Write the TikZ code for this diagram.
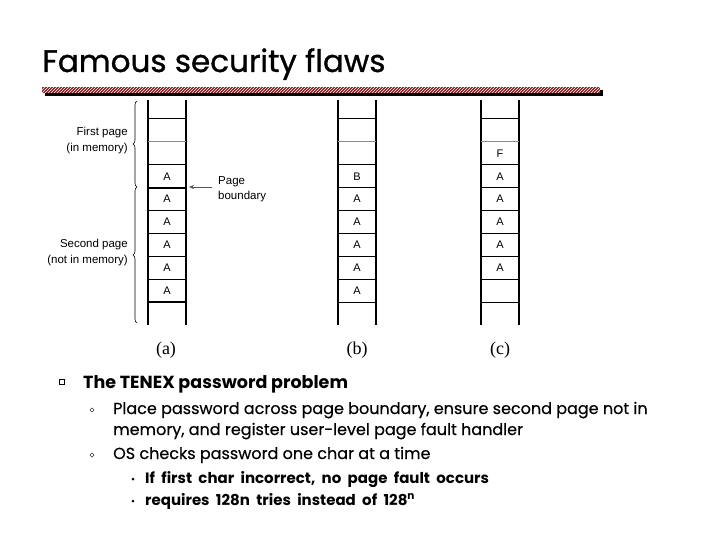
\documentclass[tikz,border=0pt]{standalone}
\usepackage{fontspec}
\setmainfont{Poppins}
\newfontfamily\figfont{Liberation Sans}
\newfontfamily\capfont{Liberation Serif}
\newfontfamily\widefont[WordSpace=2]{Poppins}
\usetikzlibrary{positioning,arrows.meta,decorations.pathreplacing,patterns}
\definecolor{barRed}{HTML}{8B1A1A}
\definecolor{ruleGray}{HTML}{8A8A8A}
\definecolor{arrowGray}{HTML}{555555}

\tikzset{
  wall/.style={line width=1.3pt},
  rule/.style={line width=1pt},
  lightrule/.style={line width=1pt, ruleGray},
  heavyrule/.style={line width=1.8pt},
  cell/.style={font=\figfont\fontsize{11}{13}\selectfont, inner sep=0pt},
  sidelabel/.style={font=\figfont\fontsize{11.5}{16}\selectfont, align=right, inner sep=0pt, anchor=east},
  caption/.style={font=\capfont\fontsize{18}{20}\selectfont, inner sep=0pt},
  lvlone/.style={anchor=base west, inner sep=0pt, font=\bfseries\fontsize{17.5}{20}\selectfont},
  lvltwo/.style={anchor=base west, inner sep=0pt, font=\addfontfeature{FakeBold=0.4}\fontsize{16}{20}\selectfont},
  lvlthree/.style={anchor=base west, inner sep=0pt, font=\widefont\bfseries\fontsize{15}{18}\selectfont},
  brace/.style={decorate, decoration={brace, amplitude=4pt}, line width=0.6pt}
}

\begin{document}
\begin{tikzpicture}[x=1pt, y=-1pt]
\useasboundingbox (0,0) rectangle (720,540);
% title and hatched rule
\node[anchor=base west, inner sep=0pt, font=\addfontfeature{FakeBold=1}\fontsize{31}{36}\selectfont] (title) at (42,72) {Famous security flaws};
\fill[black] (45,90) rectangle (603,96);
\fill[barRed] (42,87) rectangle (600,93);
\fill[pattern=north east lines, pattern color=white] (42,87) rectangle (600,93);
% three page columns
\foreach \x in {148,338,481}{
  \draw[wall] (\x,100) -- (\x,325);
  \draw[wall] (\x+38,100) -- (\x+38,325);
  \foreach \i in {0,2,3,...,8}{\draw[rule] (\x,{119+22.9*\i}) -- (\x+38,{119+22.9*\i});}
  \draw[lightrule] (\x,{119+22.9}) -- (\x+38,{119+22.9});
}
\draw[heavyrule] (148,{119+22.9*3}) -- (186,{119+22.9*3});
\draw[heavyrule] (148,{119+22.9*8}) -- (186,{119+22.9*8});
% cell contents
\foreach \i in {2,...,7}{\node[cell] (a\i) at (167,{119+22.9*(\i+0.5)}) {A};}
\node[cell] (b2) at (357,{119+22.9*2.5}) {B};
\foreach \i in {3,...,7}{\node[cell] (b\i) at (357,{119+22.9*(\i+0.5)}) {A};}
\node[cell] (c1) at (500,{119+22.9*1.5}) {F};
\foreach \i in {2,...,6}{\node[cell] (c\i) at (500,{119+22.9*(\i+0.5)}) {A};}
% braces and side labels
\draw[brace] (137,187) -- (137,101);
\draw[brace] (137,323) -- (137,187);
\node[sidelabel] (first) at (128,141) {First page\\(in memory)};
\node[sidelabel] (second) at (128,253) {Second page\\(not in memory)};
\coordinate (bnd) at (189,187);
\node[cell, anchor=west, align=left, font=\figfont\fontsize{11.5}{15}\selectfont] (pgb) at (218,189) {Page\\boundary};
\draw[-{Stealth[length=5pt, width=4pt]}, arrowGray, line width=0.6pt] (pgb.west |- bnd) ++(-6,0) coordinate (pgbtail) (pgbtail) -- (bnd);
% captions
\node[caption] (capa) at (166,350) {(a)};
\node[caption] (capb) at (357,350) {(b)};
\node[caption] (capc) at (500,350) {(c)};
% bullet list
\node[draw, line width=0.9pt, minimum size=5pt, inner sep=0pt] (sq) at (62,382) {};
\node[lvlone] (tenex) at (83,388) {The TENEX password problem};
\node[draw, rotate=45, line width=0.5pt, minimum size=3pt, inner sep=0pt] (dmone) at (92,410) {};
\node[lvltwo] (place) at (113,414) {Place password across page boundary, ensure second page not in};
\node[lvltwo] (memory) at (113,435) {memory, and register user-level page fault handler};
\node[draw, rotate=45, line width=0.5pt, minimum size=3pt, inner sep=0pt] (dmtwo) at (92,455) {};
\node[lvltwo] (checks) at (113,459) {OS checks password one char at a time};
\fill (133,479) circle (1.5) coordinate (dotone);
\node[lvlthree] (incorrect) at (145,483) {If first char incorrect, no page fault occurs};
\fill (133,501) circle (1.5) coordinate (dottwo);
\node[lvlthree] (tries) at (145,505) {requires 128n tries instead of 128\textsuperscript{n}};
\end{tikzpicture}
\end{document}
